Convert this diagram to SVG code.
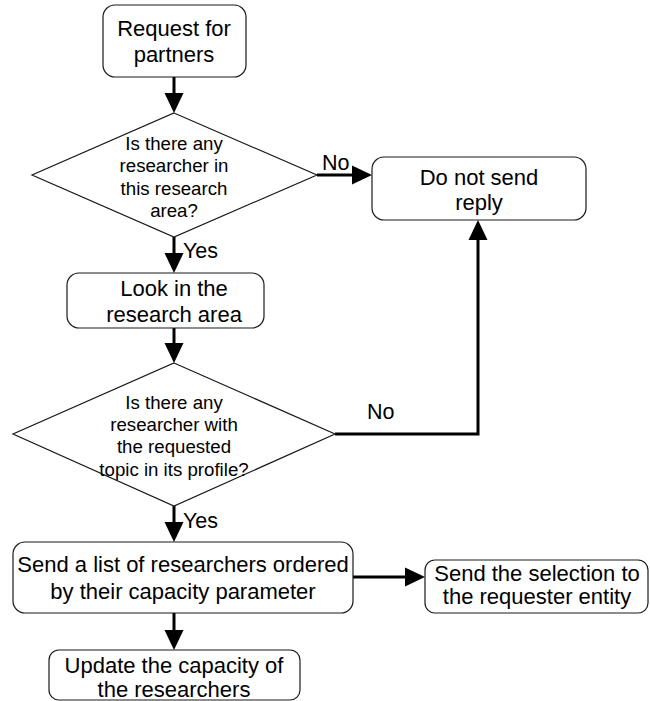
<svg xmlns="http://www.w3.org/2000/svg" width="650" height="701" viewBox="0 0 650 701">
  <style>
    .box { fill: #ffffff; stroke: #1a1a1a; stroke-width: 1.2; }
    .dia { fill: #ffffff; stroke: #1a1a1a; stroke-width: 1.2; }
    .t { font-family: "Liberation Sans", Arial, sans-serif; font-size: 22px; fill: #000; text-anchor: middle; }
    .td { font-family: "Liberation Sans", Arial, sans-serif; font-size: 18.67px; fill: #000; text-anchor: middle; }
    .lbl { font-family: "Liberation Sans", Arial, sans-serif; font-size: 21.5px; fill: #000; }
    .flow { fill: none; stroke: #000; stroke-width: 3; marker-end: url(#head); }
  </style>
  <defs>
    <marker id="head" markerUnits="userSpaceOnUse" markerWidth="21" markerHeight="20" refX="0" refY="9.5" orient="auto" overflow="visible">
      <path d="M0,0 L20,9.5 L0,19 Z" fill="#000"/>
    </marker>
  </defs>

  <g id="connectors">
    <path class="flow" d="M174,77 V93"/>
    <path class="flow" d="M317,175 H352"/>
    <path class="flow" d="M174,237 V253"/>
    <path class="flow" d="M174,328 V343"/>
    <path class="flow" d="M335,434 H478 V240"/>
    <path class="flow" d="M174,506 V522"/>
    <path class="flow" d="M353,577 H405"/>
    <path class="flow" d="M174,613 V630"/>
    <text class="lbl" x="322" y="170">No</text>
    <text class="lbl" x="183" y="258">Yes</text>
    <text class="lbl" x="367" y="419">No</text>
    <text class="lbl" x="183" y="528">Yes</text>
  </g>

  <g id="request">
    <rect class="box" x="103" y="5" width="143" height="72" rx="12"/>
    <text class="t" x="174" y="36">Request for</text>
    <text class="t" x="174" y="62">partners</text>
  </g>

  <g id="any-researcher">
    <polygon class="dia" points="174,113 317,175 174,237 32,175"/>
    <text class="td" x="174" y="150">Is there any</text>
    <text class="td" x="174" y="172">researcher in</text>
    <text class="td" x="174" y="195">this research</text>
    <text class="td" x="174" y="217">area?</text>
  </g>

  <g id="no-reply">
    <rect class="box" x="372" y="157" width="214" height="63" rx="12"/>
    <text class="t" x="479" y="185">Do not send</text>
    <text class="t" x="479" y="210">reply</text>
  </g>

  <g id="look">
    <rect class="box" x="67" y="273" width="197" height="55" rx="12"/>
    <text class="t" x="174" y="296">Look in the</text>
    <text class="t" x="174" y="322">research area</text>
  </g>

  <g id="topic-match">
    <polygon class="dia" points="174,363 335,434 174,506 13,434"/>
    <text class="td" x="174" y="409">Is there any</text>
    <text class="td" x="174" y="431">researcher with</text>
    <text class="td" x="174" y="453">the requested</text>
    <text class="td" x="174" y="476">topic in its profile?</text>
  </g>

  <g id="send-list">
    <rect class="box" x="13" y="542" width="340" height="71" rx="12"/>
    <text class="t" x="183" y="572">Send a list of researchers ordered</text>
    <text class="t" x="183" y="599">by their capacity parameter</text>
  </g>

  <g id="send-selection">
    <rect class="box" x="425" y="560" width="223" height="53" rx="10"/>
    <text class="t" x="537" y="581">Send the selection to</text>
    <text class="t" x="537" y="604">the requester entity</text>
  </g>

  <g id="update">
    <rect class="box" x="49" y="650" width="251" height="50" rx="10"/>
    <text class="t" x="174" y="673">Update the capacity of</text>
    <text class="t" x="174" y="697">the researchers</text>
  </g>
</svg>
